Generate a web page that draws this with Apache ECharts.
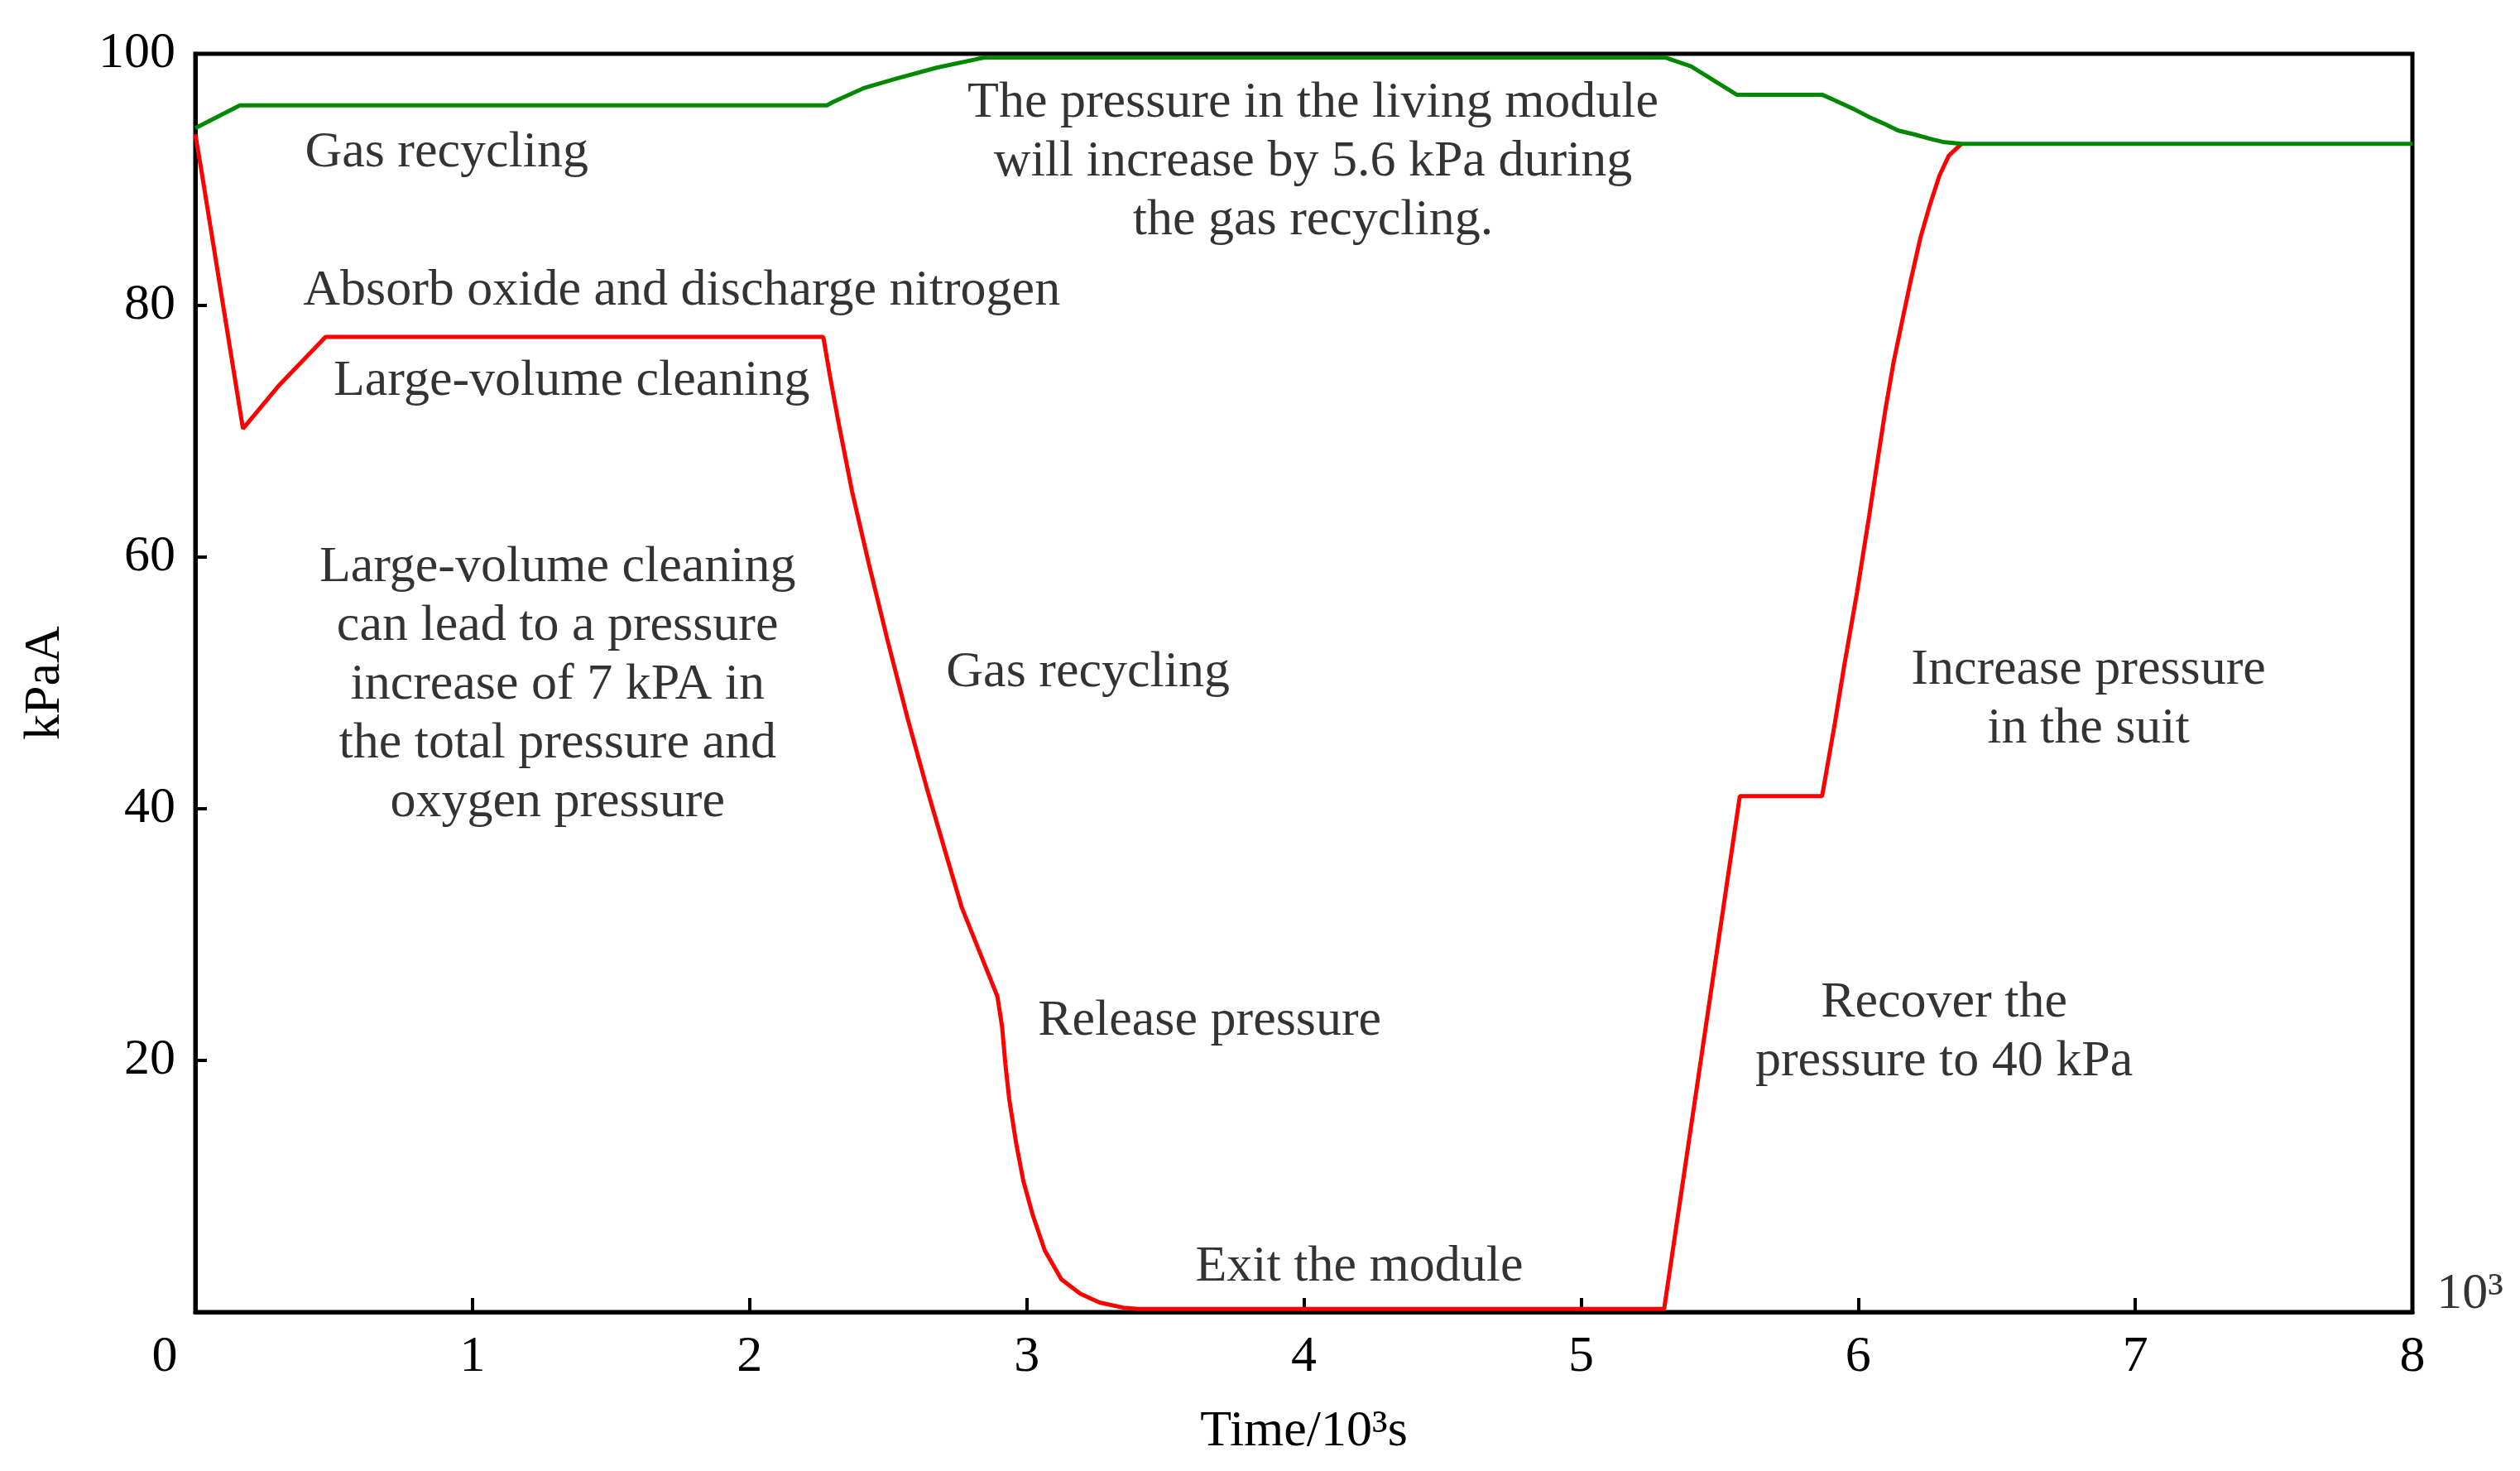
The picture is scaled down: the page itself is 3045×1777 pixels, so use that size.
<!DOCTYPE html>
<html><head><meta charset="utf-8">
<script src="https://cdn.jsdelivr.net/npm/echarts@6/dist/echarts.min.js"></script>
<style>html,body{margin:0;padding:0;background:#fff}#c{width:3045px;height:1777px}</style>
</head><body><div id="c"></div>
<script>
// ---- data ----
const xTicks = [0, 1, 2, 3, 4, 5, 6, 7, 8];
const yTicks = [0, 20, 40, 60, 80, 100];

const redTime = [0, 0.02, 0.172, 0.30, 0.47, 2.266, 2.29, 2.32, 2.37, 2.43, 2.50, 2.57, 2.64, 2.71, 2.765, 2.834, 2.894, 2.911, 2.923, 2.937, 2.962, 2.988, 3.022, 3.065, 3.125, 3.194, 3.263, 3.348, 3.40, 5.30, 5.573, 5.87, 5.916, 5.95, 5.996, 6.04, 6.071, 6.099, 6.128, 6.162, 6.191, 6.225, 6.259, 6.293, 6.327, 6.373];
const redKpa  = [93.6, 91.0, 70.2, 73.6, 77.5, 77.5, 74.4, 70.8, 65.2, 59.5, 53.2, 47.2, 41.6, 36.3, 32.2, 28.4, 25.1, 22.7, 19.7, 16.9, 13.4, 10.4, 7.7, 4.9, 2.6, 1.45, 0.76, 0.35, 0.25, 0.25, 41.0, 41.0, 46.8, 51.4, 57.2, 63.3, 67.8, 71.8, 75.5, 79.1, 82.1, 85.4, 88.0, 90.3, 91.9, 92.85];

const greenTime = [0, 0.161, 2.279, 2.304, 2.415, 2.525, 2.675, 2.824, 2.848, 5.305, 5.397, 5.562, 5.87, 5.916, 5.985, 6.042, 6.088, 6.145, 6.202, 6.259, 6.305, 6.373, 8];
const greenKpa  = [94.1, 95.9, 95.9, 96.2, 97.3, 98.0, 98.9, 99.6, 99.7, 99.7, 99.0, 96.75, 96.75, 96.3, 95.6, 94.95, 94.5, 93.9, 93.6, 93.25, 93.0, 92.85, 92.85];

const noteText = [
  'Gas recycling',
  'Absorb oxide and discharge nitrogen',
  'Large-volume cleaning',
  'Large-volume cleaning\ncan lead to a pressure\nincrease of 7 kPA in\nthe total pressure and\noxygen pressure',
  'Gas recycling',
  'Release pressure',
  'Exit the module',
  'The pressure in the living module\nwill increase by 5.6 kPa during\nthe gas recycling.',
  'Increase pressure\nin the suit',
  'Recover the\npressure to 40 kPa',
  '10³'
];
const noteTime = [0.907, 1.755, 1.358, 1.307, 3.221, 3.66, 4.2, 4.033, 6.831, 6.31, 8.087];
const noteKpa  = [92.1, 81.15, 73.95, 49.8, 50.8, 23.1, 3.55, 91.4, 48.7, 22.2, 1.4];

const xName = 'Time/10³s';
const yName = 'kPaA';

// ---- chart ----
const FONT = "'Liberation Serif', 'Times New Roman', serif";
const FS = 62;
const chart = echarts.init(document.getElementById('c'));
const zip = (a, b) => a.map((v, i) => [v, b[i]]);

chart.setOption({
  animation: false,
  backgroundColor: '#fff',
  grid: { left: 236, right: 130, top: 65, bottom: 192, show: true, borderColor: '#000', borderWidth: 5, backgroundColor: 'transparent' },
  xAxis: {
    type: 'value', min: xTicks[0], max: xTicks[xTicks.length - 1], interval: 1,
    name: xName, nameLocation: 'middle', nameGap: 114,
    nameTextStyle: { fontFamily: FONT, fontSize: FS, color: '#000' },
    axisLine: { show: true, lineStyle: { color: '#000', width: 5 } },
    axisTick: { show: true, inside: true, length: 17, lineStyle: { color: '#000', width: 4 } },
    axisLabel: {
      margin: 24, fontFamily: FONT, fontSize: FS, color: '#000',
      formatter: v => (v === 0 ? '{z|0}' : String(v)),
      rich: { z: { fontFamily: FONT, fontSize: FS, color: '#000', padding: [0, 74, 0, 0] } }
    },
    splitLine: { show: false }
  },
  yAxis: {
    type: 'value', min: yTicks[0], max: yTicks[yTicks.length - 1], interval: 20,
    name: yName, nameLocation: 'middle', nameGap: 150,
    nameTextStyle: { fontFamily: FONT, fontSize: FS, color: '#000' },
    axisLine: { show: true, lineStyle: { color: '#000', width: 5 } },
    axisTick: { show: true, inside: true, length: 14, lineStyle: { color: '#000', width: 4 } },
    axisLabel: { margin: 24, fontFamily: FONT, fontSize: FS, color: '#000', formatter: v => (v === 0 ? '' : String(v)) },
    splitLine: { show: false }
  },
  series: [
    {
      type: 'line', data: zip(redTime, redKpa), showSymbol: false, symbol: 'none',
      lineStyle: { color: '#ff0000', width: 5 }, z: 3
    },
    {
      type: 'line', data: zip(greenTime, greenKpa), showSymbol: false, symbol: 'none',
      lineStyle: { color: '#008800', width: 5 }, z: 4
    },
    {
      type: 'scatter', symbolSize: 0, clip: false, silent: true, z: 5,
      data: noteText.map((t, i) => ({
        value: [noteTime[i], noteKpa[i]],
        label: { formatter: t, align: i === noteText.length - 1 ? 'left' : 'center' }
      })),
      label: {
        show: true, position: 'inside', fontFamily: FONT, fontSize: FS, color: '#000',
        lineHeight: 71, verticalAlign: 'middle'
      }
    }
  ]
});
</script>
</body></html>
